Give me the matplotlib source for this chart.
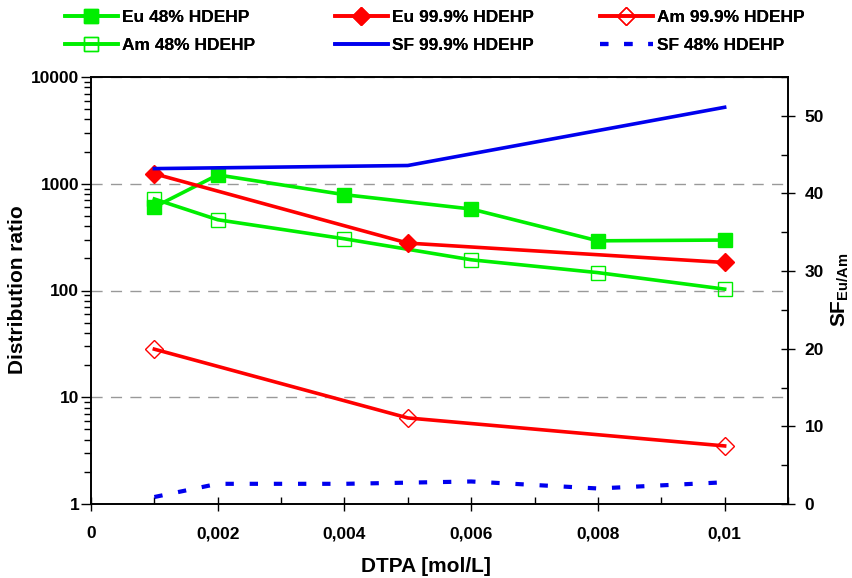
import numpy as np
import matplotlib
matplotlib.use("Agg")
import matplotlib.pyplot as plt
from matplotlib.ticker import FixedLocator, MultipleLocator, LogLocator, NullFormatter

plt.rcParams['font.family'] = ['Liberation Sans', 'DejaVu Sans']
plt.rcParams['font.weight'] = 'bold'
plt.rcParams['mathtext.fontset'] = 'custom'
plt.rcParams['mathtext.bf'] = 'Liberation Sans:bold'
plt.rcParams['mathtext.rm'] = 'Liberation Sans'

# data
x_48 = [0.001, 0.002, 0.004, 0.006, 0.008, 0.01]
eu_48 = [605, 1210, 790, 580, 292, 297]
am_48 = [720, 460, 305, 194, 147, 103]
sf_48 = [0.9, 2.6, 2.6, 2.9, 2.0, 2.8]

x_99 = [0.001, 0.005, 0.01]
eu_99 = [1240, 278, 183]
am_99 = [28.2, 6.4, 3.5]
sf_99 = [43.2, 43.6, 51.1]

x_ticks = [0, 0.002, 0.004, 0.006, 0.008, 0.01]
x_ticklabels = ["0", "0,002", "0,004", "0,006", "0,008", "0,01"]
y_ticks = [1, 10, 100, 1000, 10000]
y_ticklabels = ["1", "10", "100", "1000", "10000"]

green = "#00ee00"
red = "#ff0000"
blue = "#0000ee"

fig = plt.figure(figsize=(8.52, 5.78), dpi=100)
ax = fig.add_axes([91/852, 1 - 504/578, (788 - 91)/852, (504 - 77)/578])
ax2 = ax.twinx()

lw = 2.6
l1, = ax.plot(x_48, eu_48, color=green, lw=lw, marker="s", ms=10, mfc=green, mec=green)
l2, = ax.plot(x_48, am_48, color=green, lw=lw, marker="s", ms=10, mfc="none", mec=green, mew=1)
l3, = ax.plot(x_99, eu_99, color=red, lw=lw, marker="D", ms=9, mfc=red, mec=red)
l4, = ax.plot(x_99, am_99, color=red, lw=lw, marker="D", ms=9, mfc="none", mec=red, mew=1)
l5, = ax2.plot(x_99, sf_99, color=blue, lw=lw)
l6, = ax2.plot(x_48, sf_48, color=blue, lw=3, linestyle=(0, (2, 3.8)))

ax.set_yscale("log")
ax.set_ylim(1, 10000)
ax.set_xlim(0, 0.011)
ax2.set_ylim(0, 55)

ax.yaxis.set_major_locator(FixedLocator(y_ticks))
ax.set_yticklabels(y_ticklabels)
ax.yaxis.set_minor_locator(LogLocator(base=10, subs=np.arange(2, 10)))
ax.yaxis.set_minor_formatter(NullFormatter())
ax.set_xticks(x_ticks)
ax.set_xticklabels(x_ticklabels)
ax.xaxis.set_minor_locator(MultipleLocator(0.001))

ax2.yaxis.set_major_locator(MultipleLocator(10))
ax2.yaxis.set_minor_locator(MultipleLocator(5))

fs_tick = 12.5
ax.tick_params(axis="y", which="major", direction="out", length=7, width=1, labelsize=fs_tick, pad=1.5)
ax.tick_params(axis="y", which="minor", direction="out", length=5, width=1)
ax.tick_params(axis="x", which="major", direction="inout", length=10, width=1, labelsize=fs_tick, pad=11)
ax.tick_params(axis="x", which="minor", direction="in", length=5, width=1)
ax2.tick_params(axis="y", which="major", direction="inout", length=10, width=1, labelsize=fs_tick, pad=7)
ax2.tick_params(axis="y", which="minor", direction="in", length=5, width=1)

for t in ax.get_xticklabels() + ax.get_yticklabels() + ax2.get_yticklabels():
    t.set_fontweight("bold")

ax.grid(axis="y", which="major", color="#999999", linestyle=(0, (8, 6)), lw=1)
ax.set_axisbelow(True)

for a in (ax, ax2):
    for s in a.spines.values():
        s.set_linewidth(1.2)

fig.text(0.5, 1 - 566/578, "DTPA [mol/L]", fontsize=15, fontweight="bold", ha="center", va="center")
fig.text(18/852, 1 - 290/578, "Distribution ratio", fontsize=15, fontweight="bold",
         rotation=90, ha="center", va="center")
fig.text(840/852, 1 - 290/578, r"$\mathbf{SF_{Eu/Am}}$", fontsize=15,
         rotation=90, ha="center", va="center")

# legend: three columns placed by hand
cols = [([l1, l2], ["Eu 48% HDEHP", "Am 48% HDEHP"], 65),
        ([l3, l5], ["Eu 99.9% HDEHP", "SF 99.9% HDEHP"], 335),
        ([l4, l6], ["Am 99.9% HDEHP", "SF 48% HDEHP"], 600)]
for hs, ls, x0 in cols:
    leg = fig.legend(hs, ls, loc="upper left", bbox_to_anchor=(x0/852, 1 - 10/578),
                     frameon=False, prop={"weight": "bold", "size": 12.5}, borderpad=0,
                     borderaxespad=0, handlelength=3.05, handletextpad=0.25, labelspacing=0.72)
    fig.add_artist(leg)

fig.savefig("out.png", dpi=100)
